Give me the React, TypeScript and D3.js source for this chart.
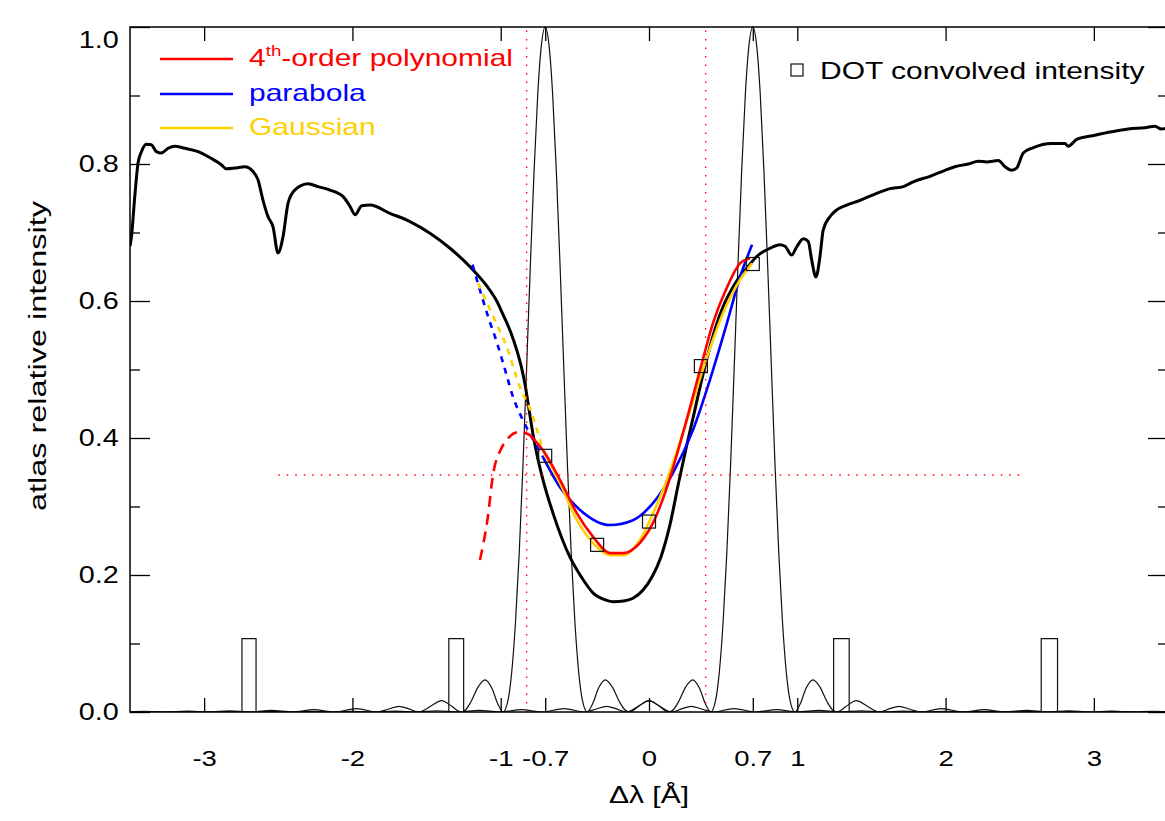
import React, { useEffect, useRef } from "react";
import * as d3 from "d3";

type Pt = [number, number];

// axis ticks
const xTickValues = [-3, -2, -1, -0.7, 0, 0.7, 1, 2, 3];
const xTickLabels = ["-3", "-2", "-1", "-0.7", "0", "0.7", "1", "2", "3"];
const yMajorTicks = [0, 0.2, 0.4, 0.6, 0.8, 1.0];
const yTickLabels = ["0.0", "0.2", "0.4", "0.6", "0.8", "1.0"];
const yMinorTicks = [0.1, 0.3, 0.5, 0.7, 0.9];

// atlas spectrum [dl, I]
const atlasProfile: Pt[] = [
  [-3.5, 0.68], [-3.49, 0.694], [-3.468, 0.752], [-3.446, 0.801], [-3.423, 0.818], [-3.39, 0.829],
  [-3.356, 0.828], [-3.322, 0.818], [-3.289, 0.816], [-3.243, 0.823], [-3.198, 0.826], [-3.131, 0.823],
  [-3.041, 0.818], [-2.951, 0.808], [-2.884, 0.799], [-2.85, 0.793], [-2.794, 0.794], [-2.726, 0.796],
  [-2.67, 0.789], [-2.637, 0.777], [-2.603, 0.747], [-2.569, 0.723], [-2.535, 0.708], [-2.502, 0.67],
  [-2.468, 0.694], [-2.434, 0.743], [-2.389, 0.762], [-2.299, 0.771], [-2.232, 0.767], [-2.151, 0.762],
  [-2.061, 0.752], [-2.016, 0.738], [-1.982, 0.726], [-1.937, 0.739], [-1.881, 0.74], [-1.747, 0.728],
  [-1.612, 0.716], [-1.477, 0.699], [-1.342, 0.677], [-1.207, 0.65], [-1.094, 0.622], [-1.027, 0.6],
  [-0.982, 0.579], [-0.93, 0.553], [-0.89, 0.527], [-0.86, 0.503], [-0.836, 0.478], [-0.81, 0.443],
  [-0.782, 0.405], [-0.75, 0.37], [-0.715, 0.339],
  [-0.647, 0.29], [-0.533, 0.226], [-0.45, 0.195], [-0.378, 0.174], [-0.3, 0.164], [-0.243, 0.161],
  [-0.17, 0.162], [-0.108, 0.166], [-0.04, 0.178], [0.02, 0.197], [0.08, 0.226], [0.14, 0.272],
  [0.2, 0.335], [0.25, 0.385], [0.3, 0.432], [0.35, 0.48], [0.4, 0.524], [0.45, 0.562],
  [0.5, 0.592], [0.55, 0.614], [0.6, 0.632], [0.66, 0.648], [0.726, 0.665], [0.816, 0.677],
  [0.883, 0.682], [0.917, 0.68], [0.962, 0.667], [0.996, 0.679], [1.041, 0.691], [1.074, 0.687],
  [1.097, 0.66], [1.126, 0.635], [1.153, 0.665], [1.175, 0.704], [1.22, 0.723], [1.266, 0.733],
  [1.333, 0.74], [1.423, 0.747], [1.512, 0.755], [1.625, 0.764], [1.715, 0.767], [1.782, 0.774],
  [1.895, 0.782], [2.0, 0.791], [2.063, 0.796], [2.153, 0.8], [2.221, 0.804], [2.277, 0.803],
  [2.356, 0.805], [2.401, 0.796], [2.446, 0.791], [2.479, 0.794], [2.524, 0.816], [2.592, 0.824],
  [2.715, 0.83], [2.805, 0.83], [2.827, 0.826], [2.884, 0.836], [3.007, 0.842], [3.12, 0.847],
  [3.232, 0.851], [3.345, 0.853], [3.412, 0.855], [3.457, 0.851], [3.5, 0.853],
];

// fits: solid inside the fit range, dashed outside
const polyFit: Pt[] = [
  [-0.8, 0.404], [-0.715, 0.382], [-0.6, 0.339], [-0.486, 0.29], [-0.378, 0.256], [-0.263, 0.232],
  [-0.175, 0.232], [-0.061, 0.247], [0.027, 0.276], [0.121, 0.328], [0.229, 0.407], [0.344, 0.499],
  [0.432, 0.568], [0.526, 0.62], [0.614, 0.655], [0.681, 0.662],
];
const polyExtra: Pt[] = [
  [-1.14, 0.222], [-1.09, 0.28], [-1.05, 0.349], [-1.0, 0.383], [-0.96, 0.397], [-0.91, 0.407],
  [-0.87, 0.409], [-0.8, 0.404],
];
const parabolaFit: Pt[] = [
  [-0.715, 0.372], [-0.6, 0.328], [-0.465, 0.295], [-0.263, 0.273], [-0.108, 0.28], [0.027, 0.305],
  [0.162, 0.349], [0.297, 0.412], [0.411, 0.485], [0.526, 0.568], [0.614, 0.635], [0.695, 0.682],
];
const parabolaExtra: Pt[] = [
  [-1.19, 0.653], [-1.14, 0.616], [-1.085, 0.577], [-1.025, 0.539], [-0.97, 0.499], [-0.917, 0.46],
  [-0.85, 0.426], [-0.78, 0.397], [-0.715, 0.372],
];
const gaussFit: Pt[] = [
  [-0.715, 0.382], [-0.6, 0.334], [-0.486, 0.28], [-0.378, 0.247], [-0.263, 0.229], [-0.175, 0.229],
  [-0.061, 0.251], [0.027, 0.29], [0.121, 0.339], [0.256, 0.426], [0.391, 0.518], [0.499, 0.582],
  [0.614, 0.631], [0.695, 0.655],
];
const gaussExtra: Pt[] = [
  [-1.153, 0.626], [-1.05, 0.577], [-0.96, 0.533], [-0.87, 0.474], [-0.8, 0.441], [-0.715, 0.382],
];

// DOT convolved intensity samples
const dotX = [-0.7, -0.35, 0, 0.35, 0.7];
const dotY = [0.374, 0.244, 0.278, 0.505, 0.654];

// filter transmission (one half, offset from centre)
const filterCenters = [-0.7, 0.7];
const filterOffsets = [
  0, 0.025, 0.05, 0.075, 0.1, 0.125, 0.15, 0.175, 0.2, 0.225, 0.25, 0.284, 0.32, 0.36, 0.406, 0.45,
  0.5, 0.535, 0.568, 0.63, 0.698, 0.77, 0.852, 0.92, 0.985, 1.06, 1.136, 1.272, 1.42, 1.56, 1.704,
  1.846, 1.988, 2.13, 2.272, 2.414, 2.556, 2.7, 2.84, 2.98, 3.124, 3.27, 3.41, 3.55, 3.69, 3.84, 3.98,
];
const filterTrans = [
  1, 0.975, 0.903, 0.79, 0.653, 0.505, 0.36, 0.233, 0.132, 0.06, 0.018, 0, 0.012, 0.035, 0.047, 0.0375,
  0.0153, 0.0036, 0, 0.0083, 0.0165, 0.0087, 0, 0.0045, 0.0083, 0.004, 0, 0.005, 0, 0.0034, 0,
  0.0024, 0, 0.0018, 0, 0.0014, 0, 0.0011, 0, 0.0009, 0, 0.0008, 0, 0.0006, 0, 0.0005, 0,
];

// prefilter boxes
const boxEdges: Pt[] = [[-2.745, -2.65], [-1.35, -1.25], [1.245, 1.35], [2.645, 2.755]];
const boxHeight = 0.107;

// red dotted markers
const markerX = [-0.825, 0.382];
const markerLevel = 0.346;
const markerRange = [-2.5, 2.5];

const FONT = "'Liberation Sans', Arial, Helvetica, sans-serif";
const SX = 1.25;

export default function App() {
  const ref = useRef<SVGSVGElement>(null);

  useEffect(() => {
    const svg = d3.select(ref.current);
    svg.selectAll("*").remove();

    const L = 130, R = 1168, T = 27, B = 712;
    const x = d3.scaleLinear().domain([-3.5, 3.5]).range([L, R]);
    const y = d3.scaleLinear().domain([0, 1]).range([B, T]);

    svg.append("defs").append("clipPath").attr("id", "plotclip")
      .append("rect").attr("x", L).attr("y", T - 1).attr("width", R - L).attr("height", B - T + 1);

    const g = svg.append("g").attr("clip-path", "url(#plotclip)");
    const line = d3.line<Pt>().x(d => x(d[0])).y(d => y(d[1]));
    const smooth = d3.line<Pt>().x(d => x(d[0])).y(d => y(d[1])).curve(d3.curveMonotoneX);

    // filter profiles
    filterCenters.forEach(c => {
      const left: Pt[] = filterOffsets.slice(1).map((o, i) => [c - o, filterTrans[i + 1]] as Pt).reverse();
      const right: Pt[] = filterOffsets.map((o, i) => [c + o, filterTrans[i]] as Pt);
      g.append("path").attr("d", smooth([...left, ...right]))
        .attr("fill", "none").attr("stroke", "#111").attr("stroke-width", 1.2);
    });

    // boxes
    boxEdges.forEach(([a, b]) => {
      g.append("path").attr("d", line([[a, 0], [a, boxHeight], [b, boxHeight], [b, 0]]))
        .attr("fill", "none").attr("stroke", "#111").attr("stroke-width", 1.2);
    });

    // atlas
    g.append("path").attr("d", smooth(atlasProfile))
      .attr("fill", "none").attr("stroke", "#000").attr("stroke-width", 3);

    // fits
    const fits = [
      { solid: parabolaFit, dashed: parabolaExtra, color: "#0000ff", dash: "6,6" },
      { solid: gaussFit, dashed: gaussExtra, color: "#ffd000", dash: "6,6" },
      { solid: polyFit, dashed: polyExtra, color: "#ff0000", dash: "11,7" },
    ];
    fits.forEach(f => {
      g.append("path").attr("d", smooth(f.dashed)).attr("fill", "none")
        .attr("stroke", f.color).attr("stroke-width", 2.6).attr("stroke-dasharray", f.dash);
      g.append("path").attr("d", smooth(f.solid)).attr("fill", "none")
        .attr("stroke", f.color).attr("stroke-width", 2.6);
    });

    // red dotted markers
    markerX.forEach(m => {
      g.append("path").attr("d", line([[m, 0], [m, 1]]))
        .attr("stroke", "#ff0000").attr("stroke-width", 1.3).attr("stroke-dasharray", "1.5,7");
    });
    g.append("path").attr("d", line([[markerRange[0], markerLevel], [markerRange[1], markerLevel]]))
      .attr("stroke", "#ff0000").attr("stroke-width", 1.3).attr("stroke-dasharray", "1.5,7");

    // squares
    g.selectAll("rect.dot").data(dotX).join("rect").attr("class", "dot")
      .attr("x", d => x(d) - 6.5).attr("y", (d, i) => y(dotY[i]) - 6.5)
      .attr("width", 13).attr("height", 13)
      .attr("fill", "none").attr("stroke", "#111").attr("stroke-width", 1.2);

    // frame
    svg.append("rect").attr("x", L).attr("y", T).attr("width", R - L).attr("height", B - T)
      .attr("fill", "none").attr("stroke", "#000").attr("stroke-width", 1.5);

    const styleAxis = (sel: d3.Selection<SVGGElement, unknown, null, undefined>) => {
      sel.select(".domain").remove();
      sel.selectAll("line").attr("stroke", "#000").attr("stroke-width", 1.3);
      sel.attr("font-family", FONT);
    };

    // bottom axis
    const xb = svg.append("g").attr("transform", `translate(0,${B})`)
      .call(d3.axisBottom(x).tickValues(xTickValues)
        .tickFormat((d, i) => xTickLabels[i]).tickSize(-14).tickSizeOuter(0).tickPadding(38));
    styleAxis(xb);
    xb.selectAll("text").attr("font-size", 22).attr("fill", "#000").attr("transform", `scale(${SX},1)`);

    // top axis
    const xt = svg.append("g").attr("transform", `translate(0,${T})`)
      .call(d3.axisTop(x).tickValues(xTickValues).tickFormat(() => "").tickSize(-14).tickSizeOuter(0));
    styleAxis(xt);

    // left axis
    const yl = svg.append("g").attr("transform", `translate(${L},0)`)
      .call(d3.axisLeft(y).tickValues(yMajorTicks)
        .tickFormat((d, i) => yTickLabels[i]).tickSize(-20).tickSizeOuter(0).tickPadding(9));
    styleAxis(yl);
    yl.selectAll<SVGTextElement, number>("text").attr("font-size", 23).attr("fill", "#000")
      .attr("transform", `scale(${SX},1)`)
      .attr("y", d => (d === 1 ? 13 : 0));
    const ylm = svg.append("g").attr("transform", `translate(${L},0)`)
      .call(d3.axisLeft(y).tickValues(yMinorTicks).tickFormat(() => "").tickSize(-10).tickSizeOuter(0));
    styleAxis(ylm);

    // right axis
    const yr = svg.append("g").attr("transform", `translate(${R},0)`)
      .call(d3.axisRight(y).tickValues(yMajorTicks).tickFormat(() => "").tickSize(-20).tickSizeOuter(0));
    styleAxis(yr);
    const yrm = svg.append("g").attr("transform", `translate(${R},0)`)
      .call(d3.axisRight(y).tickValues(yMinorTicks).tickFormat(() => "").tickSize(-10).tickSizeOuter(0));
    styleAxis(yrm);

    // axis titles
    svg.append("g").attr("transform", `translate(649,803) scale(${SX},1)`)
      .append("text").attr("text-anchor", "middle").attr("font-family", FONT).attr("font-size", 24)
      .text("Δλ [Å]");
    svg.append("text").attr("transform", "translate(46,356) rotate(-90)")
      .attr("text-anchor", "middle").attr("font-family", FONT).attr("font-size", 23)
      .attr("textLength", 310).attr("lengthAdjust", "spacingAndGlyphs")
      .text("atlas relative intensity");

    // legend, top left
    const legendRows = [
      { color: "#ff0000", ly: 59 },
      { color: "#0000ff", ly: 94, label: "parabola" },
      { color: "#ffd000", ly: 128, label: "Gaussian" },
    ];
    legendRows.forEach((r, i) => {
      svg.append("line").attr("x1", 160).attr("x2", 233).attr("y1", r.ly).attr("y2", r.ly)
        .attr("stroke", r.color).attr("stroke-width", 2.6);
      const t = svg.append("g").attr("transform", `translate(249,${r.ly + 7}) scale(${SX},1)`)
        .append("text").attr("font-family", FONT).attr("font-size", 24).attr("fill", r.color);
      if (i === 0) {
        t.append("tspan").text("4");
        t.append("tspan").attr("font-size", 15).attr("dy", -10).text("th");
        t.append("tspan").attr("dy", 10).text("-order polynomial");
      } else {
        t.text(r.label as string);
      }
    });

    // legend, top right
    svg.append("rect").attr("x", 791).attr("y", 64).attr("width", 12).attr("height", 12)
      .attr("fill", "none").attr("stroke", "#111").attr("stroke-width", 1.2);
    svg.append("g").attr("transform", `translate(820,79) scale(${SX},1)`)
      .append("text").attr("font-family", FONT).attr("font-size", 24).attr("fill", "#000")
      .text("DOT convolved intensity");
  }, []);

  return (
    <svg ref={ref} width={1165} height={821}
      style={{ position: "absolute", left: 0, top: 0, background: "#fff" }} />
  );
}
